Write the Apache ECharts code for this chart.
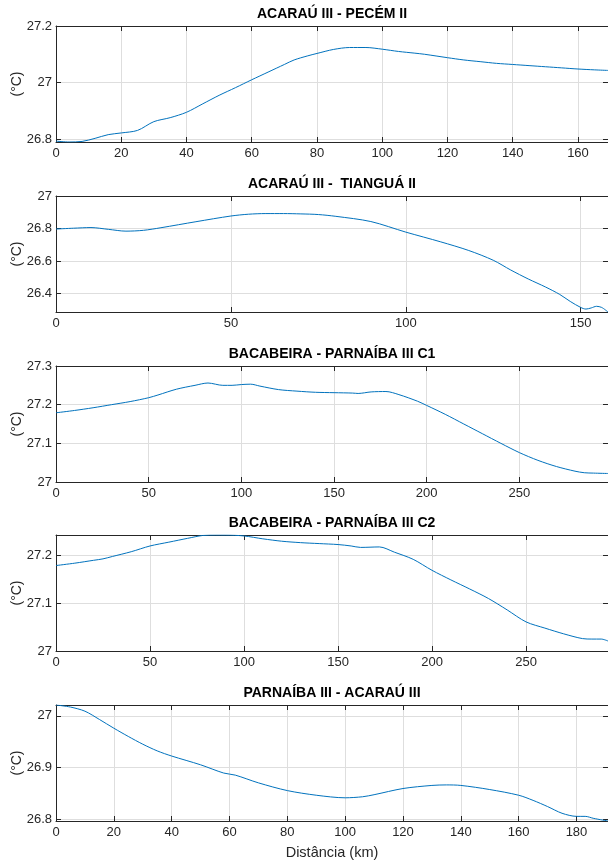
<!DOCTYPE html>
<html>
<head>
<meta charset="utf-8">
<script src="https://cdn.jsdelivr.net/npm/echarts@6/dist/echarts.min.js"></script>
<style>html,body{margin:0;padding:0;background:#fff}#c{width:608px;height:862px}</style>
</head>
<body>
<div id="c"></div>
<script>
// ---- data ----
const titles = ['ACARAÚ III - PECÉM II', 'ACARAÚ III -  TIANGUÁ II', 'BACABEIRA - PARNAÍBA III C1', 'BACABEIRA - PARNAÍBA III C2', 'PARNAÍBA III - ACARAÚ III'];
const yName = '(°C)';
const xName = 'Distância (km)';

const x1 = [0, 4, 8, 12, 16, 20, 25, 30, 35, 40, 45, 50, 55, 60, 65, 70, 73, 77, 80, 85, 90, 95, 100, 105, 110, 113, 120, 125, 130, 135, 140, 145, 150, 155, 160, 165, 169.2];
const y1 = [26.793, 26.79, 26.792, 26.803, 26.816, 26.822, 26.831, 26.862, 26.876, 26.895, 26.925, 26.955, 26.982, 27.01, 27.037, 27.064, 27.08, 27.094, 27.103, 27.117, 27.124, 27.124, 27.118, 27.11, 27.104, 27.1, 27.088, 27.08, 27.074, 27.068, 27.064, 27.06, 27.056, 27.052, 27.048, 27.045, 27.043];

const x2 = [0, 5, 10, 15, 20, 25, 30, 40, 50, 55, 60, 65, 70, 75, 80, 90, 100, 110, 118, 125, 130, 135, 140, 144, 147, 150, 151.5, 153, 154.5, 156, 157.8];
const y2 = [26.797, 26.802, 26.806, 26.795, 26.784, 26.789, 26.805, 26.842, 26.877, 26.888, 26.892, 26.892, 26.89, 26.886, 26.875, 26.843, 26.778, 26.718, 26.665, 26.605, 26.545, 26.49, 26.44, 26.395, 26.352, 26.315, 26.305, 26.312, 26.322, 26.315, 26.287];

const x3 = [0, 10, 20, 30, 40, 50, 55, 65, 75, 82, 90, 95, 100, 105, 110, 120, 130, 140, 150, 160, 163, 170, 178, 185, 195, 200, 210, 220, 230, 240, 250, 260, 270, 280, 285, 290, 297.8];
const y3 = [27.179, 27.185, 27.192, 27.2, 27.208, 27.218, 27.225, 27.24, 27.25, 27.256, 27.25, 27.25, 27.252, 27.253, 27.248, 27.239, 27.235, 27.232, 27.231, 27.23, 27.229, 27.233, 27.234, 27.226, 27.209, 27.198, 27.175, 27.15, 27.125, 27.1, 27.076, 27.056, 27.04, 27.028, 27.024, 27.023, 27.022];

const x4 = [0, 10, 20, 25, 30, 40, 50, 60, 70, 78, 85, 90, 100, 110, 120, 130, 140, 150, 157, 162, 172, 180, 190, 200, 210, 220, 230, 240, 250, 260, 270, 280, 285, 290, 293.6];
const y4 = [27.179, 27.184, 27.19, 27.193, 27.198, 27.208, 27.22, 27.228, 27.236, 27.242, 27.243, 27.243, 27.241, 27.235, 27.23, 27.227, 27.225, 27.223, 27.22, 27.217, 27.218, 27.207, 27.192, 27.169, 27.149, 27.13, 27.11, 27.086, 27.061, 27.048, 27.036, 27.026, 27.025, 27.025, 27.021];

const x5 = [0, 5, 10, 15, 20, 25, 30, 35, 40, 50, 58, 62, 70, 80, 90, 100, 106, 110, 120, 130, 135, 140, 150, 160, 165, 170, 175, 180, 183, 186, 190.9];
const y5 = [27.021, 27.017, 27.009, 26.993, 26.976, 26.96, 26.945, 26.932, 26.922, 26.905, 26.889, 26.885, 26.87, 26.855, 26.846, 26.841, 26.843, 26.847, 26.859, 26.865, 26.866, 26.865, 26.857, 26.846, 26.836, 26.824, 26.811, 26.805, 26.805, 26.801, 26.796];

const xMax = [169.2, 157.8, 297.8, 293.6, 190.9];
const xTicks = [
  [0, 20, 40, 60, 80, 100, 120, 140, 160],
  [0, 50, 100, 150],
  [0, 50, 100, 150, 200, 250],
  [0, 50, 100, 150, 200, 250],
  [0, 20, 40, 60, 80, 100, 120, 140, 160, 180]
];
const yMin = [26.79, 26.287, 27, 27, 26.796];
const yMax = [27.2, 27, 27.3, 27.243, 27.021];
const yTicks = [
  [26.8, 27, 27.2],
  [26.4, 26.6, 26.8, 27],
  [27, 27.1, 27.2, 27.3],
  [27, 27.1, 27.2],
  [26.8, 26.9, 27]
];
const xs = [x1, x2, x3, x4, x5];
const ys = [y1, y2, y3, y4, y5];

// ---- layout / style ----
const FONT = '"Liberation Sans", Arial, Helvetica, sans-serif';
const AX = '#262626';
const GRIDC = '#dedede';
const LEFT = 56;
const tops = [26, 196, 366, 535, 705];
const H = 116;

const grid = [], xAxis = [], yAxis = [], series = [], title = [];
for (let i = 0; i < 5; i++) {
  grid.push({ left: LEFT, right: 0, top: tops[i], height: H, containLabel: false, outerBoundsMode: 'none' });
  title.push({
    text: titles[i], left: (LEFT + 608) / 2, top: tops[i] - 19, textAlign: 'center', padding: 0,
    textStyle: { fontFamily: FONT, fontSize: 14, fontWeight: 'bold', color: '#000' }
  });
  const common = {
    type: 'value', gridIndex: i, min: 0, max: xMax[i]
  };
  xAxis.push(Object.assign({}, common, {
    position: 'bottom',
    axisLine: { show: true, onZero: false, lineStyle: { color: AX, width: 1 } },
    axisTick: { show: true, inside: true, length: 5, customValues: xTicks[i], lineStyle: { color: AX } },
    axisLabel: { show: true, margin: 5, customValues: xTicks[i], fontFamily: FONT, fontSize: 13, color: AX },
    splitLine: { show: true, lineStyle: { color: GRIDC, width: 1 } },
    name: i === 4 ? xName : '', nameLocation: 'middle', nameGap: 24, nameMoveOverlap: false,
    nameTextStyle: { fontFamily: FONT, fontSize: 14.5, color: AX }
  }));
  xAxis.push(Object.assign({}, common, {
    position: 'top',
    axisLine: { show: true, onZero: false, lineStyle: { color: AX, width: 1 } },
    axisTick: { show: true, inside: true, length: 5, customValues: xTicks[i], lineStyle: { color: AX } },
    axisLabel: { show: false },
    splitLine: { show: false }
  }));
  const ycommon = { type: 'value', gridIndex: i, min: yMin[i], max: yMax[i], scale: true };
  yAxis.push(Object.assign({}, ycommon, {
    position: 'left',
    axisLine: { show: true, onZero: false, lineStyle: { color: AX, width: 1 } },
    axisTick: { show: true, inside: true, length: 5, customValues: yTicks[i], lineStyle: { color: AX } },
    axisLabel: { show: true, margin: 4, customValues: yTicks[i], fontFamily: FONT, fontSize: 13, color: AX },
    splitLine: { show: true, lineStyle: { color: GRIDC, width: 1 } },
    name: yName, nameLocation: 'middle', nameGap: 32, nameRotate: 90, nameMoveOverlap: false,
    nameTextStyle: { fontFamily: FONT, fontSize: 14, color: AX }
  }));
  yAxis.push(Object.assign({}, ycommon, {
    position: 'right',
    axisLine: { show: true, onZero: false, lineStyle: { color: AX, width: 1 } },
    axisTick: { show: true, inside: true, length: 5, customValues: yTicks[i], lineStyle: { color: AX } },
    axisLabel: { show: false },
    splitLine: { show: false }
  }));
  series.push({
    type: 'line', xAxisIndex: 2 * i, yAxisIndex: 2 * i,
    data: xs[i].map((x, k) => [x, ys[i][k]]),
    showSymbol: false, smooth: 0.3, clip: true,
    lineStyle: { color: '#0072BD', width: 1 }, itemStyle: { color: '#0072BD' },
    animation: false
  });
}

const chart = echarts.init(document.getElementById('c'), null, { renderer: 'canvas' });
chart.setOption({ animation: false, backgroundColor: '#fff', title, grid, xAxis, yAxis, series });
</script>
</body>
</html>
